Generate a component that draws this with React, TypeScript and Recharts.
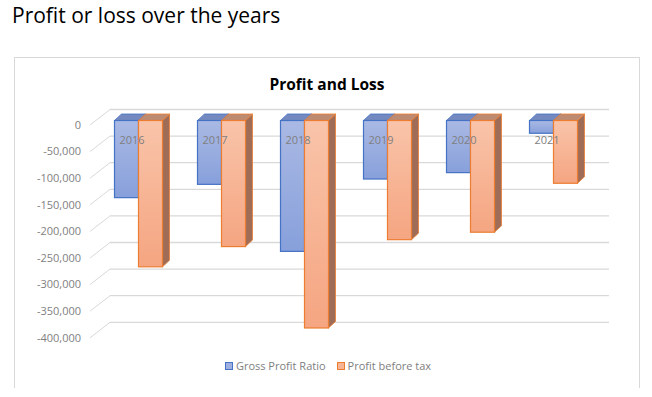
import { BarChart, Bar, XAxis, YAxis, CartesianGrid } from 'recharts';

const YEARS = ['2016', '2017', '2018', '2019', '2020', '2021'];
const GROSS_PROFIT_RATIO = [-145000, -120000, -246000, -110000, -98000, -24000];
const PROFIT_BEFORE_TAX = [-275000, -237000, -390000, -224000, -210000, -118000];
const Y_TICKS = [0, -50000, -100000, -150000, -200000, -250000, -300000, -350000, -400000];

const chartData = YEARS.map((year, i) => ({
  year,
  gross: GROSS_PROFIT_RATIO[i],
  pbt: PROFIT_BEFORE_TAX[i],
}));

const PLOT_TOP = 120.5;
const PLOT_BOTTOM = 333.3;
const PLOT_LEFT = 96.5;
const DEPTH_X = 7;
const DEPTH_Y = 6.5;
const FONT = '"Open Sans", "Noto Sans", sans-serif';

const bar3d = (front: string, stroke: string, topFace: string, sideFace: string) => (props: any) => {
  const { x, y, width, height } = props;
  const top = Math.min(y, y + height);
  const h = Math.abs(height);
  const right = x + width;
  return (
    <g>
      <polygon
        points={`${right},${top} ${right + DEPTH_X},${top - DEPTH_Y} ${right + DEPTH_X},${top + h - DEPTH_Y} ${right},${top + h}`}
        fill={sideFace}
        stroke={stroke}
        strokeWidth={0.8}
      />
      <polygon
        points={`${x},${top} ${x + DEPTH_X},${top - DEPTH_Y} ${right + DEPTH_X},${top - DEPTH_Y} ${right},${top}`}
        fill={topFace}
        stroke={stroke}
        strokeWidth={0.8}
      />
      <rect x={x} y={top} width={width} height={h} fill={front} stroke={stroke} strokeWidth={1.2} />
    </g>
  );
};

const gridLine = (props: any) => {
  const { x1, y1, x2 } = props;
  return (
    <g key={props.key}>
      <line x1={x1 + 13.5} y1={y1 - 11} x2={x2 + 14.5} y2={y1 - 11} stroke="#d9d9d9" strokeWidth={1.3} />
      <line x1={x1 - 6.5} y1={y1 + 4.5} x2={x1 + 13.5} y2={y1 - 11} stroke="#d9d9d9" strokeWidth={1} />
    </g>
  );
};

const YTick = (props: any) => {
  const { y, payload } = props;
  return (
    <text x={81} y={y + 4.5} dy="0.35em" textAnchor="end" fontSize={11} fill="#7f7f7f" fontFamily={FONT}>
      {payload.value.toLocaleString('en-US')}
    </text>
  );
};

const XTick = (props: any) => {
  const { x, payload } = props;
  return (
    <text x={x - 6} y={PLOT_TOP + 20} dy="0.35em" textAnchor="middle" fontSize={11} fill="#7f7f7f" fontFamily={FONT}>
      {payload.value}
    </text>
  );
};

const LegendItem = ({ label, fill, stroke }: { label: string; fill: string; stroke: string }) => (
  <span style={{ display: 'flex', alignItems: 'center' }}>
    <span style={{ width: 6, height: 6, background: fill, border: `1px solid ${stroke}`, marginRight: 3 }} />
    {label}
  </span>
);

export default function App() {
  return (
    <div style={{ position: 'absolute', left: 0, top: 0, width: 652, height: 397, background: '#fff' }}>
      <div style={{ position: 'absolute', left: 12, top: 1, fontFamily: FONT, fontSize: 21, color: '#000' }}>
        Profit or loss over the years
      </div>
      <div
        style={{
          position: 'absolute',
          left: 14,
          top: 57,
          width: 624,
          height: 330,
          borderTop: '1px solid #d9d9d9',
          borderLeft: '1px solid #d9d9d9',
          borderRight: '1px solid #d9d9d9',
        }}
      />
      <div style={{ position: 'absolute', left: 0, top: 0 }}>
        <BarChart
          width={652}
          height={397}
          data={chartData}
          margin={{ top: PLOT_TOP - 1, right: 652 - PLOT_LEFT - 498, bottom: 397 - PLOT_BOTTOM, left: 0 }}
          barCategoryGap={17.5}
          barGap={0}
          barSize={24}
        >
          <defs>
            <linearGradient id="gBlue" x1="0" y1="0" x2="0" y2="1">
              <stop offset="0%" stopColor="#aab9e4" />
              <stop offset="100%" stopColor="#87a0db" />
            </linearGradient>
            <linearGradient id="gOrange" x1="0" y1="0" x2="0" y2="1">
              <stop offset="0%" stopColor="#f9c4aa" />
              <stop offset="100%" stopColor="#f5a581" />
            </linearGradient>
          </defs>
          <text x={327} y={85} dy="0.35em" textAnchor="middle" fontSize={15.5} fontWeight={700} fill="#000" fontFamily={FONT}>
            Profit and Loss
          </text>
          <CartesianGrid vertical={false} horizontal={gridLine} />
          <XAxis
            dataKey="year"
            orientation="top"
            height={1}
            axisLine={false}
            tickLine={false}
            tick={<XTick />}
            interval={0}
          />
          <YAxis
            domain={[-400000, 0]}
            ticks={Y_TICKS}
            width={PLOT_LEFT}
            axisLine={false}
            tickLine={false}
            tick={<YTick />}
            interval={0}
          />
          <Bar
            dataKey="gross"
            name="Gross Profit Ratio"
            isAnimationActive={false}
            shape={bar3d('url(#gBlue)', '#4472c4', '#7489bf', '#6a7fb5')}
          />
          <Bar
            dataKey="pbt"
            name="Profit before tax"
            isAnimationActive={false}
            shape={bar3d('url(#gOrange)', '#ed7d31', '#bd8a72', '#9f6d57')}
          />
        </BarChart>
      </div>
      <div
        style={{
          position: 'absolute',
          left: 0,
          top: 358,
          width: 652,
          display: 'flex',
          justifyContent: 'center',
          gap: 11,
          fontFamily: FONT,
          fontSize: 11,
          color: '#808080',
          paddingLeft: 4,
          boxSizing: 'border-box',
        }}
      >
        <LegendItem label="Gross Profit Ratio" fill="#9fb0e0" stroke="#4472c4" />
        <LegendItem label="Profit before tax" fill="#f7b596" stroke="#ed7d31" />
      </div>
    </div>
  );
}
